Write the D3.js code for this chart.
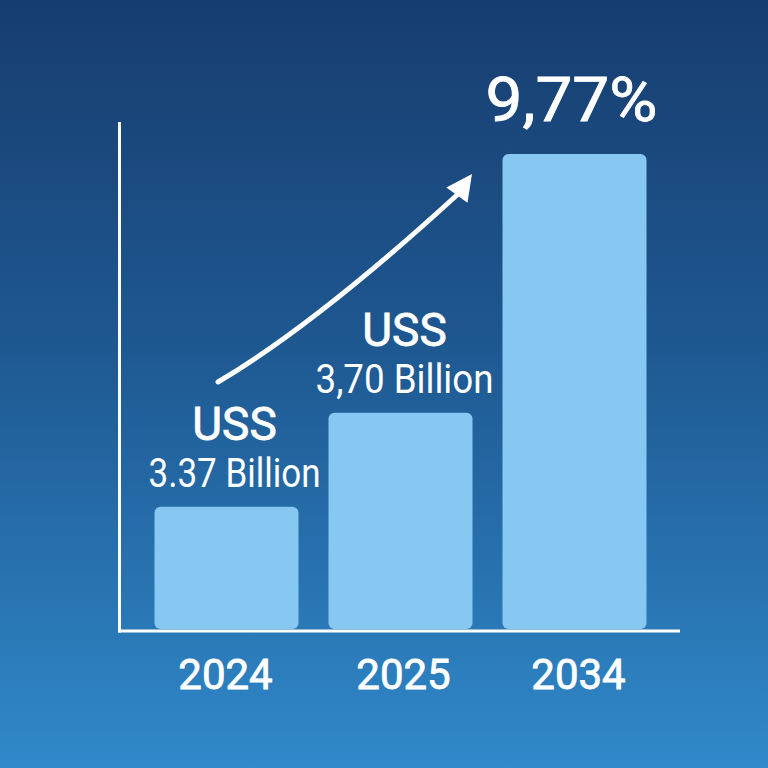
<!DOCTYPE html>
<html>
<head>
<meta charset="utf-8">
<script src="https://cdn.jsdelivr.net/npm/d3@7"></script>
<style>
  html, body { margin: 0; padding: 0; background: #1f5a95; }
  svg { display: block; }
  text { font-family: Roboto, "Noto Sans", sans-serif; fill: #ffffff; }
  .semi { stroke: #ffffff; stroke-width: 0.8px; }
</style>
</head>
<body>
<script>
// ---- data ----
const years = ["2024", "2025", "2034"];
const values = [3.37, 3.70, 4.61];          // 2034 value
const currency = ["USS", "USS"];
const valueLabels = ["3.37 Billion", "3,70 Billion"];
const cagrLabel = "9,77%";
const yDomain = [2.94, 4.61];

const W = 768, H = 768;
const svg = d3.select("body").append("svg").attr("width", W).attr("height", H);

// background gradient
const defs = svg.append("defs");
const grad = defs.append("linearGradient").attr("id", "bg")
  .attr("x1", 0).attr("y1", 0).attr("x2", 0).attr("y2", 1);
grad.append("stop").attr("offset", "0%").attr("stop-color", "#173d6f");
grad.append("stop").attr("offset", "45%").attr("stop-color", "#1e5891");
grad.append("stop").attr("offset", "100%").attr("stop-color", "#3089c9");
svg.append("rect").attr("width", W).attr("height", H).attr("fill", "url(#bg)");

// scales
const x = d3.scaleBand().domain(years).range([154.5, 646.5])
  .paddingInner(0.1724).paddingOuter(0);
const y = d3.scaleLinear().domain(yDomain).range([629, 154]);

// bars
const data = years.map((yr, i) => ({ year: yr, value: values[i] }));
svg.append("g").selectAll("rect").data(data).join("rect")
  .attr("x", d => x(d.year))
  .attr("y", d => y(d.value))
  .attr("width", x.bandwidth())
  .attr("height", d => y(yDomain[0]) - y(d.value))
  .attr("rx", 6).attr("ry", 6)
  .attr("fill", "#86c8f1");

// axes lines
svg.append("line").attr("x1", 119.5).attr("y1", 122).attr("x2", 119.5).attr("y2", 632.5)
  .attr("stroke", "#fff").attr("stroke-width", 3);
svg.append("line").attr("x1", 118).attr("y1", 631).attr("x2", 680).attr("y2", 631)
  .attr("stroke", "#fff").attr("stroke-width", 3);

// x axis labels
const yearDx = [-1, 3, 4];
const xAxis = svg.append("g").attr("transform", "translate(0,631)")
  .call(d3.axisBottom(x).tickSize(0).tickPadding(0));
xAxis.select(".domain").remove();
xAxis.selectAll("text")
  .attr("class", "semi")
  .attr("y", 58).attr("dy", 0)
  .attr("dx", (d, i) => yearDx[i])
  .attr("font-size", 42).attr("font-weight", 400)
  .style("font-family", "Roboto, 'Noto Sans', sans-serif")
  .attr("fill", "#fff");

// value labels above first two bars
const labelDx = [8, 4];
const labelWidths = [172, 178];
const lab = svg.append("g");
valueLabels.forEach((txt, i) => {
  const cx = x(years[i]) + x.bandwidth() / 2 + labelDx[i];
  const by = y(values[i]) - 20;
  lab.append("text").attr("class", "semi").attr("x", cx).attr("y", by - 47)
    .attr("text-anchor", "middle").attr("font-size", 46).attr("font-weight", 400)
    .text(currency[i]);
  lab.append("text").attr("x", cx).attr("y", by)
    .attr("text-anchor", "middle").attr("font-size", 40).attr("font-weight", 400)
    .attr("textLength", labelWidths[i]).attr("lengthAdjust", "spacingAndGlyphs")
    .text(txt);
});

// CAGR label above last bar
svg.append("text").attr("class", "semi")
  .attr("x", x(years[2]) + x.bandwidth() / 2 - 3)
  .attr("y", y(values[2]) - 33)
  .attr("text-anchor", "middle").attr("font-size", 62).attr("font-weight", 400)
  .attr("textLength", 172).attr("lengthAdjust", "spacingAndGlyphs")
  .text(cagrLabel);

// growth arrow
const p0 = [218, 382], c = [316, 324], p1 = [457, 195];
const path = d3.path();
path.moveTo(p0[0], p0[1]);
path.quadraticCurveTo(c[0], c[1], p1[0], p1[1]);
svg.append("path").attr("d", path.toString())
  .attr("fill", "none").attr("stroke", "#fff").attr("stroke-width", 5)
  .attr("stroke-linecap", "round");
// arrow head
const tip = [472, 174];
const ang = Math.atan2(tip[1] - p1[1], tip[0] - p1[0]);
const len = 26, half = 13;
const bx = tip[0] - len * Math.cos(ang), byy = tip[1] - len * Math.sin(ang);
const nx = -Math.sin(ang), ny = Math.cos(ang);
svg.append("path")
  .attr("d", `M${tip[0]},${tip[1]} L${bx + nx * half},${byy + ny * half} L${bx - nx * half},${byy - ny * half} Z`)
  .attr("fill", "#fff");
</script>
</body>
</html>
